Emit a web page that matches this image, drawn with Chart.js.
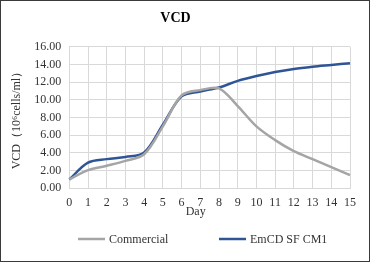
<!DOCTYPE html>
<html>
<head>
<meta charset="utf-8">
<script src="https://cdn.jsdelivr.net/npm/chart.js@4.4.0/dist/chart.umd.min.js"></script>
<style>
  html, body { margin: 0; padding: 0; background: #fff; }
  #box { width: 368px; height: 260px; border: 1px solid #3a3a3a; }
</style>
</head>
<body>
<div id="box"><canvas id="myChart" width="368" height="260"></canvas></div>
<script>
const days = ['0','1','2','3','4','5','6','7','8','9','10','11','12','13','14','15'];
const commercial = [1.0, 2.05, 2.55, 3.1, 3.85, 7.0, 10.5, 11.1, 11.3, 9.3, 7.0, 5.45, 4.2, 3.3, 2.4, 1.5];
const emcd = [1.0, 2.9, 3.3, 3.55, 4.05, 7.2, 10.4, 10.95, 11.4, 12.15, 12.7, 13.15, 13.5, 13.75, 13.95, 14.15];
const yTicks = [0, 2, 4, 6, 8, 10, 12, 14, 16];

const serif = '"Liberation Serif", "Times New Roman", serif';
const textColor = '#333';
const gridColor = '#d9d9d9';

// legend + x title drawn by hand, Excel style
const extras = {
  id: 'extras',
  afterDraw(chart) {
    const ctx = chart.ctx;
    const area = chart.chartArea;
    ctx.save();
    ctx.font = '12px ' + serif;
    ctx.fillStyle = textColor;
    ctx.textBaseline = 'middle';
    ctx.textAlign = 'center';
    ctx.fillText('Day', (area.left + area.right) / 2 - 14, 211);

    const spots = [77, 218];
    ctx.textAlign = 'left';
    chart.data.datasets.forEach((ds, i) => {
      const x = spots[i];
      const y = 238;
      ctx.strokeStyle = ds.borderColor;
      ctx.lineWidth = 2.5;
      ctx.beginPath();
      ctx.moveTo(x, y);
      ctx.lineTo(x + 27, y);
      ctx.stroke();
      ctx.fillStyle = textColor;
      ctx.fillText(ds.label, x + 31, y + 1);
    });
    ctx.restore();
  }
};

new Chart(document.getElementById('myChart').getContext('2d'), {
  type: 'line',
  data: {
    labels: days,
    datasets: [
      {
        label: 'Commercial',
        data: commercial,
        borderColor: '#a5a5a5',
        borderWidth: 2.5,
        pointRadius: 0,
        tension: 0.33,
      },
      {
        label: 'EmCD SF CM1',
        data: emcd,
        borderColor: '#2f5597',
        borderWidth: 2.5,
        pointRadius: 0,
        tension: 0.33,
      },
    ],
  },
  options: {
    responsive: false,
    animation: false,
    layout: { padding: { left: 0, right: 19, top: 0, bottom: 52.7 } },
    plugins: {
      legend: { display: false },
      tooltip: { enabled: false },
      title: {
        display: true,
        text: 'VCD',
        color: '#000',
        font: { family: serif, size: 14, weight: 'bold' },
        padding: { top: 9, bottom: 20 },
      },
    },
    scales: {
      x: {
        grid: { color: gridColor, drawTicks: false },
        border: { color: gridColor },
        ticks: {
          color: textColor,
          font: { family: serif, size: 12 },
          padding: 7,
          maxRotation: 0,
          autoSkip: false,
        },
        afterFit: s => { s.height = 20; },
      },
      y: {
        min: 0,
        max: 16,
        afterBuildTicks: s => { s.ticks = yTicks.map(v => ({ value: v })); },
        grid: { color: gridColor, drawTicks: false },
        border: { color: gridColor },
        ticks: {
          color: textColor,
          font: { family: serif, size: 12 },
          padding: 8,
          callback: v => Number(v).toFixed(2),
        },
        title: {
          display: true,
          text: 'VCD（10⁶cells/ml）',
          color: textColor,
          font: { family: serif, size: 12 },
          padding: { top: 9, bottom: 0 },
        },
        afterFit: s => { s.width = 68.3; },
      },
    },
  },
  plugins: [extras],
});
</script>
</body>
</html>
